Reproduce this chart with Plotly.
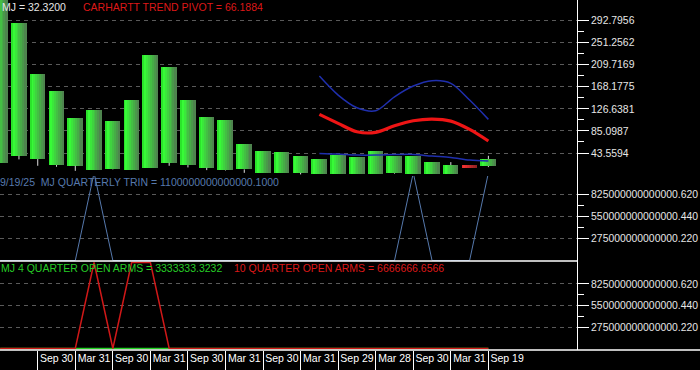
import plotly.graph_objects as go

# ---------------- data ----------------
quarter_idx = list(range(27))
candle_open = [25.1, 38.3, 32.1, 20.8, 19.5, 11.3, 12.7, 11.3, 15.7, 25.1, 20.8, 15.7, 11.3, 12.7,
               5.7, 5.1, 6.2, 4.4, 4.4, 4.4, 4.4, 5.1, 4.4, 4.4, 4.4, 20.8, 18.9]
candle_close = [340.0, 288.4, 192.3, 160.3, 109.4, 124.4, 103.7, 143.3, 228.1, 205.5, 143.3, 111.3, 105.6, 60.4,
                47.2, 45.3, 37.7, 32.1, 39.6, 35.9, 47.2, 37.7, 37.7, 26.4, 20.8, 15.7, 32.32]
candle_low = [25.1, 31.5, 19.5, 17.6, 10.0, 11.3, 12.0, 11.3, 15.7, 19.5, 16.4, 11.3, 10.5, 6.2,
              5.7, 5.1, 3.2, 4.4, 4.4, 4.4, 4.4, 4.0, 4.4, 4.4, 4.4, 15.7, 17.0]
candle_high = [340.0, 288.4, 192.3, 160.3, 109.4, 124.4, 103.7, 143.3, 228.1, 205.5, 143.3, 111.3, 105.6, 60.4,
               47.2, 45.3, 37.7, 32.1, 39.6, 35.9, 47.2, 37.7, 37.7, 26.4, 26.4, 20.8, 38.3]

label_idx = [2, 4, 6, 8, 10, 12, 14, 16, 18, 20, 22, 24, 26]
x_labels = ["Sep 30", "Mar 31", "Sep 30", "Mar 31", "Sep 30", "Mar 31", "Sep 30",
            "Mar 31", "Sep 29", "Mar 28", "Sep 30", "Mar 31", "Sep 19"]

trend_idx = [17, 18, 19, 20, 21, 22, 23, 24, 25, 26]
trend_pivot = [116.3, 99.4, 83.6, 82.4, 94.9, 104.3, 107.5, 103.7, 88.0, 66.1884]
upper_band = [188.5, 152.7, 128.8, 123.2, 149.5, 169.7, 179.7, 174.7, 143.3, 106.9]
lower_band = [42.8, 41.5, 39.6, 39.6, 40.6, 40.9, 37.7, 35.3, 30.2, 28.3]

trin = [0, 0, 0, 0, 0, 1.1e15, 0, 0, 0, 0, 0, 0, 0, 0, 0, 0, 0, 0, 0, 0, 0, 0, 1.1e15, 0, 0, 0,
        1100000000000000.1]
open_arms_4 = [0] * 26 + [3333333.3232]
open_arms_10 = [0, 0, 0, 0, 0, 1.1e15, 0, 1.1e15, 1.1e15, 0, 0, 0, 0, 0, 0, 0, 0, 0, 0, 0, 0, 0, 0, 0, 0, 0,
                6666666.6566]

price_ticks = [43.5594, 85.0987, 126.6381, 168.1775, 209.7169, 251.2562, 292.7956]
price_tick_text = ["43.5594", "85.0987", "126.6381", "168.1775", "209.7169", "251.2562", "292.7956"]
osc_ticks = [2.75e14, 5.5e14, 8.25e14]
osc_tick_text = ["275000000000000.220", "550000000000000.440", "825000000000000.620"]

# ---------------- styling helpers ----------------
FONT = "Liberation Sans, Arial, sans-serif"
N_SLICES = 8
BODY_W = 0.8
GREEN_STOPS = [(0.0, (36, 215, 36)), (0.18, (55, 252, 55)), (1.0, (80, 122, 80))]
RED_STOPS = [(0.0, (225, 40, 40)), (0.18, (238, 50, 50)), (1.0, (140, 32, 32))]


def grad(stops, t):
    for (t0, c0), (t1, c1) in zip(stops[:-1], stops[1:]):
        if t <= t1:
            f = (t - t0) / (t1 - t0) if t1 > t0 else 0
            return "rgb(%d,%d,%d)" % tuple(round(a + (b - a) * f) for a, b in zip(c0, c1))
    return "rgb(%d,%d,%d)" % stops[-1][1]


fig = go.Figure()

# wicks
wx, wy = [], []
for k, o, c, lo, hi in zip(quarter_idx, candle_open, candle_close, candle_low, candle_high):
    blo, bhi = min(o, c), max(o, c)
    if lo < blo:
        wx += [k, k, None]
        wy += [lo, blo, None]
    if hi > bhi:
        wx += [k, k, None]
        wy += [bhi, hi, None]
fig.add_trace(go.Scatter(x=wx, y=wy, mode="lines", line=dict(color="#e0e0e0", width=1),
                         xaxis="x", yaxis="y", hoverinfo="skip", showlegend=False))

# candle bodies with a horizontal gradient (slices)
for up, stops in ((True, GREEN_STOPS), (False, RED_STOPS)):
    ks = [k for k, o, c in zip(quarter_idx, candle_open, candle_close) if (c >= o) == up]
    if not ks:
        continue
    base = [min(candle_open[k], candle_close[k]) for k in ks]
    height = [abs(candle_close[k] - candle_open[k]) for k in ks]
    for j in range(N_SLICES):
        t = (j + 0.5) / N_SLICES
        fig.add_trace(go.Bar(x=ks, y=height, base=base, width=BODY_W / N_SLICES * 1.05,
                             offset=-BODY_W / 2 + j * BODY_W / N_SLICES,
                             marker=dict(color=grad(stops, t), line=dict(width=0)),
                             xaxis="x", yaxis="y", hoverinfo="skip", showlegend=False))

# trend lines
fig.add_trace(go.Scatter(x=trend_idx, y=upper_band, mode="lines",
                         line=dict(color="#1f2fae", width=1.5, shape="spline", smoothing=0.9),
                         xaxis="x", yaxis="y", showlegend=False))
fig.add_trace(go.Scatter(x=trend_idx, y=lower_band, mode="lines",
                         line=dict(color="#1f2fae", width=1.5, shape="spline", smoothing=0.9),
                         xaxis="x", yaxis="y", showlegend=False))
fig.add_trace(go.Scatter(x=trend_idx, y=trend_pivot, mode="lines",
                         line=dict(color="#ee1515", width=3.2, shape="spline", smoothing=0.9),
                         xaxis="x", yaxis="y", showlegend=False))

# TRIN
fig.add_trace(go.Scatter(x=quarter_idx, y=trin, mode="lines", line=dict(color="#5679ad", width=1),
                         xaxis="x", yaxis="y2", showlegend=False))

# Open arms
fig.add_trace(go.Scatter(x=quarter_idx, y=open_arms_4, mode="lines", line=dict(color="#22d022", width=1.5),
                         xaxis="x", yaxis="y3", showlegend=False))
fig.add_trace(go.Scatter(x=quarter_idx, y=open_arms_10, mode="lines", line=dict(color="#d01818", width=1.5),
                         xaxis="x", yaxis="y3", showlegend=False))

grid = dict(showgrid=True, gridcolor="#5a5a5a", griddash="4px,4px", gridwidth=1)
yax_common = dict(side="right", anchor="x", showline=True, linecolor="white", linewidth=1,
                  ticks="outside", ticklen=11, tickcolor="white", tickwidth=1, zeroline=False,
                  automargin=False,
                  tickfont=dict(family=FONT, size=10.4, color="#e6e6e6"), fixedrange=True, **grid)


def mids(v):
    return [(a + b) / 2 for a, b in zip(v[:-1], v[1:])]


fig.update_layout(
    width=700, height=370,
    margin=dict(l=0, r=123, t=0, b=20),
    paper_bgcolor="black", plot_bgcolor="black",
    barmode="overlay", bargap=0,
    showlegend=False,
    xaxis=dict(domain=[0, 1], range=[-0.01, 30.72], anchor="y3", showgrid=False, zeroline=False,
               showline=False, tickmode="array", tickvals=[k + 1 for k in label_idx], ticktext=x_labels,
               ticks="", automargin=False, tickfont=dict(family=FONT, size=10.5, color="white"),
               minor=dict(tickmode="array", tickvals=label_idx, ticks="outside", ticklen=20,
                          tickcolor="white", tickwidth=1, showgrid=False)),
    yaxis=dict(domain=[0.4971, 1], range=[0.2, 331.8], tickmode="array", tickvals=price_ticks,
               ticktext=price_tick_text,
               minor=dict(tickmode="array", tickvals=mids(price_ticks), ticks="outside", ticklen=6,
                          tickcolor="white", showgrid=False), **yax_common),
    yaxis2=dict(domain=[0.2543, 0.4971], range=[-6.3e12, 1.061e15], tickmode="array", tickvals=osc_ticks,
                ticktext=osc_tick_text,
                minor=dict(tickmode="array", tickvals=mids(osc_ticks), ticks="outside", ticklen=6,
                           tickcolor="white", showgrid=False), **yax_common),
    yaxis3=dict(domain=[0, 0.2543], range=[-1.9e13, 1.119e15], tickmode="array", tickvals=osc_ticks,
                ticktext=osc_tick_text,
                minor=dict(tickmode="array", tickvals=mids(osc_ticks), ticks="outside", ticklen=6,
                           tickcolor="white", showgrid=False), **yax_common),
    shapes=[
        dict(type="line", xref="paper", x0=0, x1=1, yref="y3 domain", y0=1, y1=1,
             line=dict(color="white", width=1.5)),
        dict(type="line", xref="paper", x0=0, x1=700 / 577, yref="y3 domain", y0=0, y1=0,
             line=dict(color="white", width=1.5)),
    ],
)


def label(text, x, y, color):
    fig.add_annotation(text=text, xref="paper", yref="paper", x=x, y=y, xanchor="left", yanchor="middle",
                       showarrow=False, borderpad=0,
                       font=dict(family=FONT, size=10.5, color=color))


label("MJ = 32.3200", 1 / 577, 1 - 7 / 350, "#e6e6e6")
label("CARHARTT TREND PIVOT = 66.1884", 82 / 577, 1 - 7 / 350, "#dd1818")
label("9/19/25  MJ QUARTERLY TRIN = 1100000000000000.1000", -1 / 577, 1 - 182 / 350, "#5679ad")
label("MJ 4 QUARTER OPEN ARMS = 3333333.3232", 0.0, 1 - 268 / 350, "#26cc26")
label("10 QUARTER OPEN ARMS = 6666666.6566", 233 / 577, 1 - 268 / 350, "#dd1818")

fig.write_html("out.html", config=dict(displayModeBar=False),
               post_script="document.body.style.margin='0';document.body.style.overflow='hidden';")
